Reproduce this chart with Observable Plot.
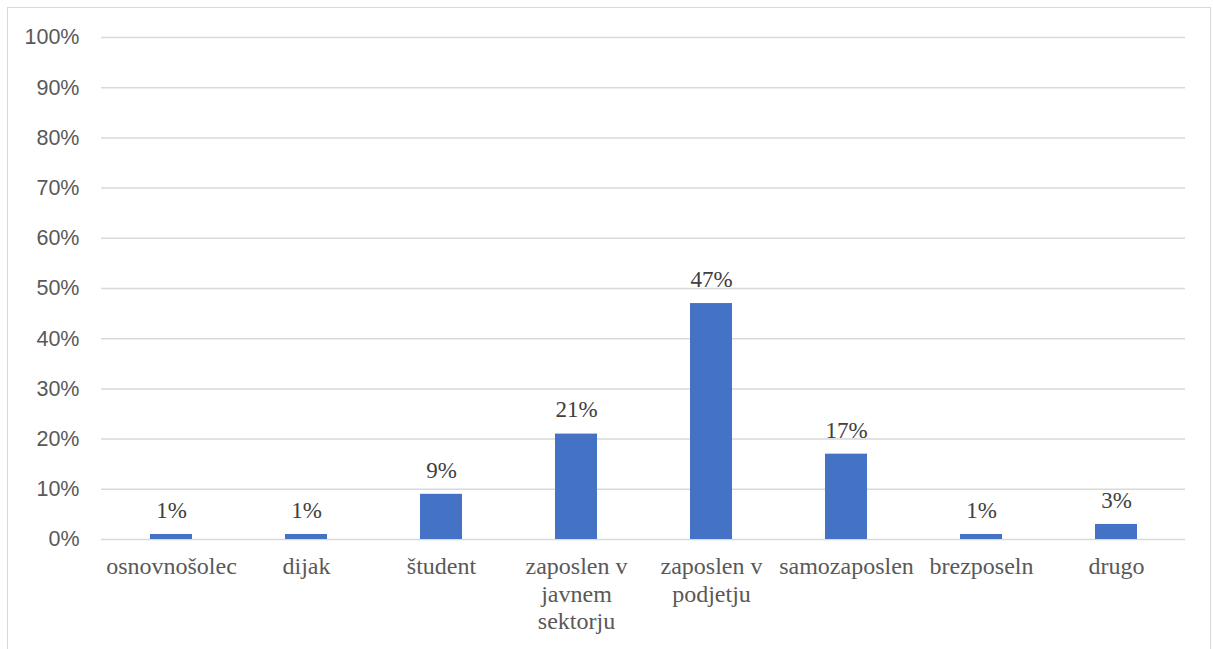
<!DOCTYPE html>
<html>
<head>
<meta charset="utf-8">
<script src="https://cdn.jsdelivr.net/npm/d3@7"></script>
<script src="https://cdn.jsdelivr.net/npm/@observablehq/plot@0.6"></script>
<style>
  html, body { margin: 0; padding: 0; background: #ffffff; }
  #wrap { position: relative; width: 1213px; height: 649px; overflow: hidden; }
  #frame { position: absolute; left: 7px; top: 7px; width: 1204px; height: 660px;
           border: 1.5px solid #d9d9d9; box-sizing: border-box; }
  #chart { position: absolute; left: 0; top: 0; }
</style>
</head>
<body>
<div id="wrap">
  <div id="frame"></div>
  <div id="chart"></div>
</div>
<script>
// Respondents by employment status (share, %)
const categories = [
  "osnovnošolec", "dijak", "študent", "zaposlen v javnem sektorju",
  "zaposlen v podjetju", "samozaposlen", "brezposeln", "drugo"
];
const shares = [1, 1, 9, 21, 47, 17, 1, 3];
const tickLabels = [
  "osnovnošolec", "dijak", "študent", "zaposlen v\njavnem\nsektorju",
  "zaposlen v\npodjetju", "samozaposlen", "brezposeln", "drugo"
];
const yTicks = [0, 10, 20, 30, 40, 50, 60, 70, 80, 90, 100];

const data = categories.map((c, i) => ({category: c, share: shares[i]}));
const labelOf = new Map(categories.map((c, i) => [c, tickLabels[i]]));

const SERIF = "'Liberation Serif', 'DejaVu Serif', serif";
const SANS = "'Liberation Sans', Arial, sans-serif";

const chart = Plot.plot({
  width: 1213,
  height: 649,
  marginLeft: 101,
  marginRight: 28,
  marginTop: 37,
  marginBottom: 110,
  style: {background: "transparent", fontFamily: SANS},
  x: {domain: categories, paddingInner: 0.69, paddingOuter: 0.345},
  y: {domain: [0, 100]},
  marks: [
    Plot.gridY(yTicks, {stroke: "#d9d9d9", strokeOpacity: 1, strokeWidth: 1.5}),
    Plot.axisY(yTicks, {
      tickSize: 0, tickPadding: 22, label: null,
      tickFormat: d => d + "%",
      fontSize: 21.5, fill: "#595959"
    }),
    Plot.barY(data, {x: "category", y: "share", fill: "#4472c4"}),
    Plot.text(data, {
      x: "category", y: "share", text: d => d.share + "%",
      dy: -24, lineAnchor: "middle",
      fontFamily: SERIF,
      fontSize: 23, fill: "#404040"
    }),
    Plot.axisX({
      tickSize: 0, tickPadding: 15, label: null,
      tickFormat: d => labelOf.get(d),
      lineHeight: 1.15,
      fontFamily: SERIF,
      fontSize: 24, fill: "#595959"
    })
  ]
});

// Category names and value labels are set in a serif face
d3.select(chart)
  .selectAll('g[aria-label="x-axis tick label"] text, g[aria-label="text"] text')
  .style("font-family", SERIF);

document.getElementById("chart").appendChild(chart);
</script>
</body>
</html>
